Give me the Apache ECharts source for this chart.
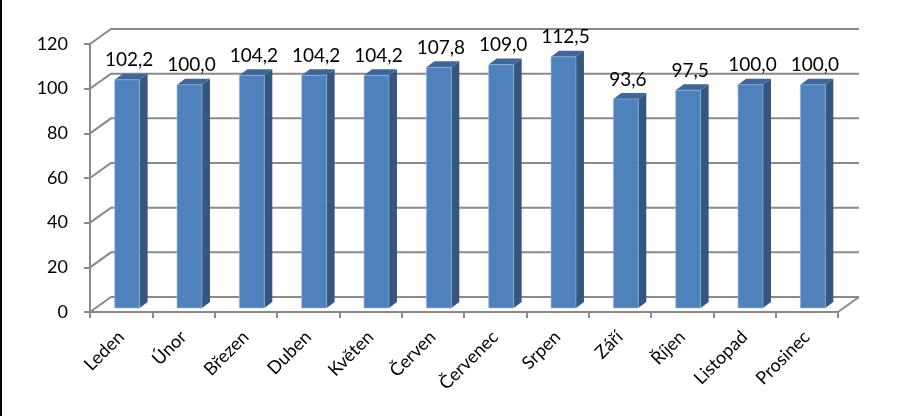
<!DOCTYPE html>
<html>
<head>
<meta charset="utf-8">
<script src="https://cdn.jsdelivr.net/npm/echarts@6/dist/echarts.min.js"></script>
<style>
  html, body { margin: 0; padding: 0; background: #fff; }
  #chart { width: 908px; height: 416px; }
</style>
</head>
<body>
<div id="chart"></div>
<script>
var months = ['Leden', 'Únor', 'Březen', 'Duben', 'Květen', 'Červen', 'Červenec', 'Srpen', 'Září', 'Říjen', 'Listopad', 'Prosinec'];
var values = [102.2, 100.0, 104.2, 104.2, 104.2, 107.8, 109.0, 112.5, 93.6, 97.5, 100.0, 100.0];
var yTicks = [0, 20, 40, 60, 80, 100, 120];

var FONT = 'Lato, "Open Sans", sans-serif';
var GRAY = '#8a8a8a';
// 3D offsets: back wall, bar position in depth, bar depth
var WALL_DX = 21, WALL_DY = -15;
var POS_DX = 6, POS_DY = -4;
var BAR_DX = 8, BAR_DY = -6;

function fmt(v) {
  return v.toFixed(1).replace('.', ',');
}

// mřížka na zadní stěně + boční stěna
function renderWall(params, api) {
  var cs = params.coordSys;
  var v = api.value(1);
  var y = api.coord([0, v])[1];
  var x0 = cs.x, x1 = cs.x + cs.width;
  var children = [{
    type: 'polyline',
    shape: { points: [[x0, y], [x0 + WALL_DX, y + WALL_DY], [x1 + WALL_DX, y + WALL_DY]] },
    style: { stroke: GRAY, lineWidth: 2, fill: null }
  }];
  if (v === 0) {
    children.push({
      type: 'line',
      shape: { x1: x1, y1: y, x2: x1 + WALL_DX, y2: y + WALL_DY },
      style: { stroke: GRAY, lineWidth: 2 }
    });
  }
  return { type: 'group', children: children };
}

// 3D sloupec
function renderBar(params, api) {
  var idx = api.value(0);
  var val = api.value(1);
  var base = api.coord([idx, 0]);
  var top = api.coord([idx, val]);
  var catW = api.size([1, 0])[0];
  var w = catW * 0.40;
  var xl = base[0] + POS_DX - w / 2;
  var xr = xl + w;
  var yt = top[1] + POS_DY;
  var yb = base[1] + POS_DY;
  return {
    type: 'group',
    children: [
      {
        type: 'polygon',
        shape: { points: [[xr, yt], [xr + BAR_DX, yt + BAR_DY], [xr + BAR_DX, yb + BAR_DY], [xr, yb]] },
        style: { fill: '#34567f' }
      },
      {
        type: 'polygon',
        shape: { points: [[xl, yt], [xl + BAR_DX, yt + BAR_DY], [xr + BAR_DX, yt + BAR_DY], [xr, yt]] },
        style: { fill: '#3d679b' }
      },
      {
        type: 'rect',
        shape: { x: xl, y: yt, width: w, height: yb - yt },
        style: { fill: '#4f81bd', stroke: '#9db8dc', lineWidth: 0.6 }
      },
      {
        type: 'text',
        style: {
          text: fmt(val),
          x: (xl + xr) / 2 + 2,
          y: yt + BAR_DY - 4,
          align: 'center',
          verticalAlign: 'bottom',
          fill: '#000',
          fontSize: 19,
          fontFamily: FONT
        }
      }
    ]
  };
}

var chart = echarts.init(document.getElementById('chart'));
chart.setOption({
  animation: false,
  backgroundColor: '#fff',
  grid: { left: 90, right: 70, top: 44, bottom: 104 },
  xAxis: {
    type: 'category',
    data: months,
    axisLine: { lineStyle: { color: GRAY, width: 2 } },
    axisTick: { show: true, length: 6, lineStyle: { color: GRAY, width: 2 } },
    axisLabel: { rotate: 45, margin: 22, color: '#000', fontSize: 18, fontFamily: FONT },
    splitLine: { show: false }
  },
  yAxis: {
    type: 'value',
    min: 0,
    max: 120,
    interval: 20,
    axisLine: { show: true, lineStyle: { color: GRAY, width: 2 } },
    axisTick: { show: true, length: 6, lineStyle: { color: GRAY, width: 2 } },
    axisLabel: { margin: 22, color: '#000', fontSize: 18, fontFamily: FONT },
    splitLine: { show: false }
  },
  graphic: [{
    type: 'rect',
    shape: { x: 0, y: 0, width: 2, height: 416 },
    style: { fill: '#000' }
  }],
  series: [
    {
      type: 'custom',
      z: 1,
      renderItem: renderWall,
      encode: { x: 0, y: 1 },
      data: yTicks.map(function (v) { return [0, v]; })
    },
    {
      type: 'custom',
      z: 3,
      renderItem: renderBar,
      encode: { x: 0, y: 1 },
      data: values.map(function (v, i) { return [i, v]; })
    }
  ]
});
</script>
</body>
</html>
